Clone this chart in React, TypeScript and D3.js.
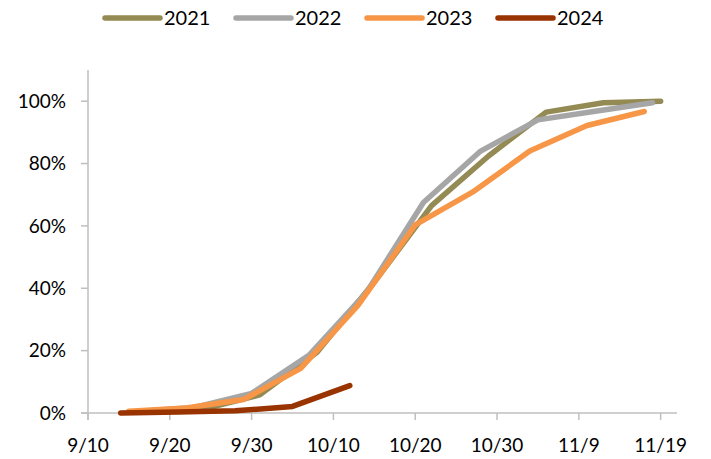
import React from 'react'
import * as d3 from 'd3'

// weekly progress, share completed (%)
const dates2021 = ['9/17', '9/24', '10/1', '10/8', '10/15', '10/22', '10/29', '11/5', '11/12', '11/19']
const values2021 = [0.3, 1.2, 5.8, 19.5, 42, 66.5, 82.5, 96.5, 99.5, 100]

const dates2022 = ['9/16', '9/23', '9/30', '10/7', '10/14', '10/21', '10/28', '11/4', '11/11', '11/18']
const values2022 = [0.5, 1.8, 6.3, 18.5, 38.5, 67.5, 84, 94, 96.8, 99.5]

const dates2023 = ['9/15', '9/22', '9/29', '10/6', '10/13', '10/20', '10/27', '11/3', '11/10', '11/17']
const values2023 = [0.6, 1.6, 4.3, 14.3, 34.5, 60.3, 70.8, 84, 92.2, 96.7]

const dates2024 = ['9/14', '9/21', '9/28', '10/5', '10/12']
const values2024 = [0, 0.3, 0.7, 2.1, 8.8]

const years = ['2021', '2022', '2023', '2024']
const colors = ['#948A54', '#A6A6A6', '#F79646', '#993300']

const xTickLabels = ['9/10', '9/20', '9/30', '10/10', '10/20', '10/30', '11/9', '11/19']
const yTicks = [0, 20, 40, 60, 80, 100]

const parse = d3.timeParse('%m/%d')

export default function App() {
  const width = 711
  const height = 459
  const font = 'Lato, "Open Sans", sans-serif'

  const x = d3.scaleTime()
    .domain([parse('9/10')!, parse('11/21')!])
    .range([88, 677])
  const y = d3.scaleLinear()
    .domain([0, 110])
    .range([413, 70])

  const series = [
    { dates: dates2021, values: values2021 },
    { dates: dates2022, values: values2022 },
    { dates: dates2023, values: values2023 },
    { dates: dates2024, values: values2024 },
  ]

  const line = d3.line<[Date, number]>()
    .x(d => x(d[0]))
    .y(d => y(d[1]))

  const axisColor = '#BFBFBF'

  return (
    <svg width={width} height={height} style={{ position: 'absolute', left: 0, top: 0 }}>
      <rect width={width} height={height} fill="#fff" />

      {/* y axis */}
      <line x1={88} x2={88} y1={y(110)} y2={y(0) + 7} stroke={axisColor} strokeWidth={1.5} />
      {yTicks.map(t => (
        <g key={t}>
          <line x1={81} x2={88} y1={y(t)} y2={y(t)} stroke={axisColor} strokeWidth={1.5} />
          <text x={66} y={y(t)} dy="0.36em" textAnchor="end" fontFamily={font} fontSize={19} fill="#000">
            {t + '%'}
          </text>
        </g>
      ))}

      {/* x axis */}
      <line x1={81} x2={677} y1={y(0)} y2={y(0)} stroke={axisColor} strokeWidth={1.5} />
      {xTickLabels.map(t => {
        const px = x(parse(t)!)
        return (
          <g key={t}>
            <line x1={px} x2={px} y1={y(0)} y2={y(0) + 7} stroke={axisColor} strokeWidth={1.5} />
            <text x={px} y={452} textAnchor="middle" fontFamily={font} fontSize={19} fill="#000">
              {t}
            </text>
          </g>
        )
      })}

      {/* series */}
      {series.map((s, i) => (
        <path
          key={years[i]}
          d={line(s.dates.map((d, j) => [parse(d)!, s.values[j]] as [Date, number])) || ''}
          fill="none"
          stroke={colors[i]}
          strokeWidth={5.5}
          strokeLinejoin="round"
          strokeLinecap="round"
        />
      ))}

      {/* legend */}
      {years.map((yr, i) => {
        const lx = 105 + i * 131
        return (
          <g key={yr}>
            <line x1={lx} x2={lx + 55} y1={18} y2={18} stroke={colors[i]} strokeWidth={5.5} strokeLinecap="round" />
            <text x={lx + 59} y={25} fontFamily={font} fontSize={20} fill="#000">{yr}</text>
          </g>
        )
      })}
    </svg>
  )
}
